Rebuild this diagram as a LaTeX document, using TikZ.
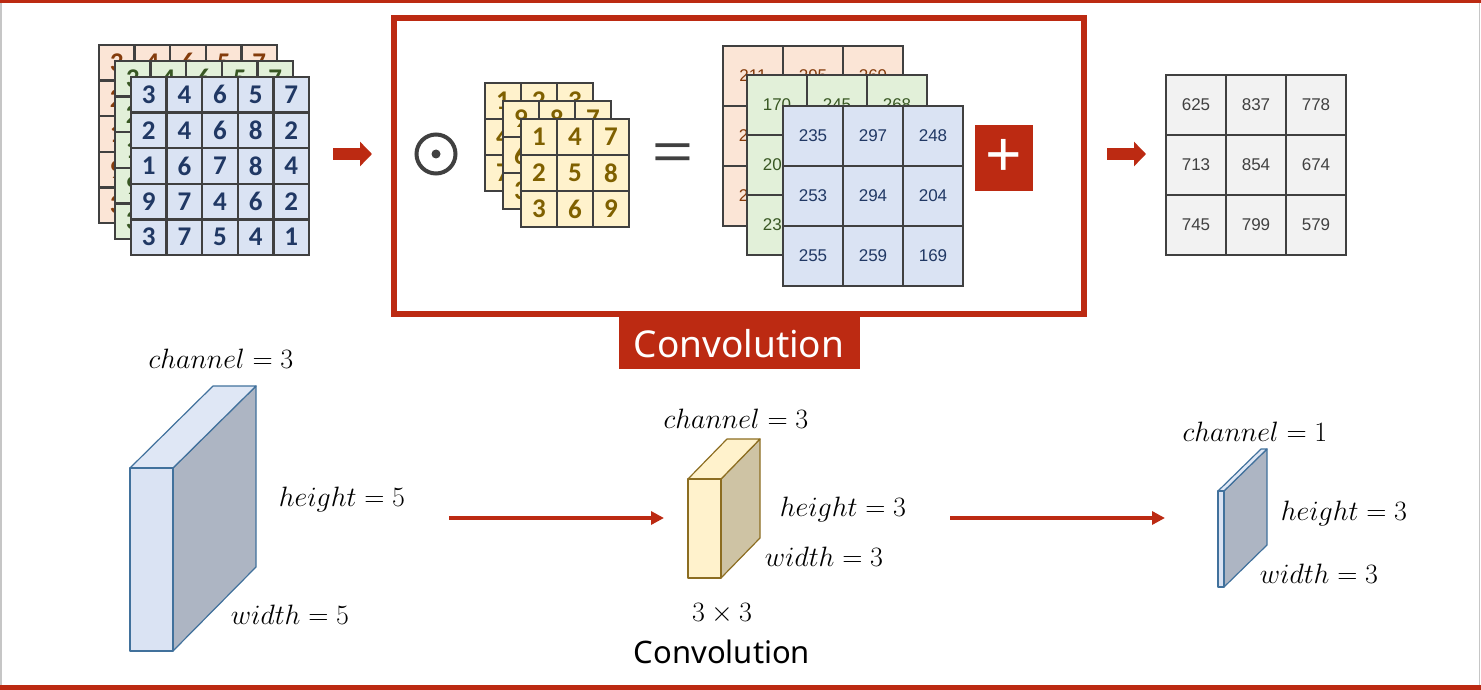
\RequirePackage{fix-cm}
\documentclass[tikz,border=0pt]{standalone}
\usepackage{fontspec}
\usepackage{graphicx}
\setsansfont{Noto Sans}
\newfontfamily\gridfont{Carlito}
\newfontfamily\cellfont{Liberation Sans}
\newfontfamily\plusfont{Noto Sans}
\usetikzlibrary{arrows.meta, positioning}

\definecolor{convred}{RGB}{188,42,18}
\definecolor{gridline}{HTML}{404040}
\definecolor{peachfill}{HTML}{FBE5D6}
\definecolor{peachtext}{HTML}{843C0C}
\definecolor{greenfill}{HTML}{E2F0D9}
\definecolor{greentext}{HTML}{385723}
\definecolor{bluefill}{HTML}{DAE3F3}
\definecolor{bluetext}{HTML}{203864}
\definecolor{yellowfill}{HTML}{FFF2CC}
\definecolor{yellowtext}{HTML}{7F6000}
\definecolor{grayfill}{HTML}{F2F2F2}
\definecolor{bluetop}{HTML}{DFE7F5}
\definecolor{blueside}{HTML}{ADB5C3}
\definecolor{bluestroke}{HTML}{41719C}
\definecolor{yellowside}{HTML}{CEC3A4}
\definecolor{yellowstroke}{HTML}{8C6D21}

% grid of numbered cells: name, x, y, cell size, style, rows
\newcommand{\numgrid}[6]{%
  \foreach \rowvals [count=\ri from 0] in {#6} {
    \foreach \val [count=\ci from 0] in \rowvals {
      \node[cellbox, #5, minimum size=#4] (#1-\ri-\ci) at ({#2+\ci*#4},{#3+\ri*#4}) {\val};
    }
  }%
}

\begin{document}
\begin{tikzpicture}[x=1pt, y=-1pt,
  cellbox/.style={draw=gridline, line width=2.5pt, inner sep=0pt, outer sep=0pt, anchor=north west},
  bignum/.style={font=\gridfont\bfseries\fontsize{27}{27}\selectfont},
  smallnum/.style={font=\cellfont\fontsize{17}{17}\selectfont},
  inpeach/.style={bignum, fill=peachfill, text=peachtext},
  ingreen/.style={bignum, fill=greenfill, text=greentext},
  inblue/.style={bignum, fill=bluefill, text=bluetext},
  kern/.style={bignum, fill=yellowfill, text=yellowtext},
  respeach/.style={smallnum, fill=peachfill, text=peachtext},
  resgreen/.style={smallnum, fill=greenfill, text=greentext},
  resblue/.style={smallnum, fill=bluefill, text=bluetext},
  resgray/.style={smallnum, fill=grayfill, text=gridline},
  blockarrow/.style={convred, line width=12pt, -{Triangle[length=12pt, width=24pt]}},
  thinarrow/.style={convred, line width=3.5pt, -{Triangle[length=13pt, width=13pt]}},
  mathlbl/.style={inner sep=0pt, font=\fontsize{28}{32}\selectfont},
  cubeblue/.style={draw=bluestroke, line width=1.2pt, line join=round},
  cubeyellow/.style={draw=yellowstroke, line width=1.2pt, line join=round}]
\useasboundingbox (0,0) rectangle (1481,690);
% page edges
\fill[convred] (0,0) rectangle (1481,3);
\fill[convred] (0,685) rectangle (1481,690);
\draw[gray!45, line width=1.5pt] (1,3) -- (1,685);
\draw[gray!45, line width=1.5pt] (1479.5,3) -- (1479.5,685);

% input feature map, three channels
\numgrid{inA}{99}{45}{35.6}{inpeach}{{3,4,6,5,7},{2,4,6,8,2},{1,6,7,8,4},{9,7,4,6,2},{3,7,5,4,1}}
\numgrid{inB}{115}{61}{35.6}{ingreen}{{3,4,6,5,7},{2,4,6,8,2},{1,6,7,8,4},{9,7,4,6,2},{3,7,5,4,1}}
\numgrid{inC}{131}{77}{35.6}{inblue}{{3,4,6,5,7},{2,4,6,8,2},{1,6,7,8,4},{9,7,4,6,2},{3,7,5,4,1}}

% convolution frame
\node[draw=convred, line width=6pt, minimum width=690pt, minimum height=296pt, inner sep=0pt] (frame) at (739,166) {};
\node[fill=convred, text=white, font=\sffamily\fontsize{37}{40}\selectfont, minimum width=241pt,
      minimum height=52pt, inner sep=0pt, below=0pt of frame] (convlbl) {Convolution};

% element-wise product sign
\node[circle, draw=gridline, line width=4pt, minimum size=39pt, inner sep=0pt] (odot) at (436,154) {};
\fill[gridline] (odot.center) circle (4.5);

% kernel, three channels
\numgrid{kA}{485}{83}{36}{kern}{{1,2,3},{4,5,6},{7,8,9}}
\numgrid{kB}{503}{101}{36}{kern}{{9,8,7},{6,5,4},{3,2,1}}
\numgrid{kC}{521}{119}{36}{kern}{{1,4,7},{2,5,8},{3,6,9}}

\node[text=gridline, font=\cellfont\fontsize{70}{70}\selectfont, inner sep=0pt] (eq) at (673,157) {\scalebox{1}[0.75]{=}};

% per-channel results
\numgrid{rA}{723}{46}{60}{respeach}{{211,295,269},{217,283,255},{219,267,164}}
\numgrid{rB}{747}{75}{60}{resgreen}{{170,245,268},{202,269,225},{233,246,246}}
\numgrid{rC}{783}{106}{60}{resblue}{{235,297,248},{253,294,204},{255,259,169}}

\node[fill=convred, text=white, font=\plusfont\fontsize{64}{64}\selectfont, minimum width=58pt,
      minimum height=66pt, inner sep=0pt] (plus) at (1004,158) {+};

% summed output
\numgrid{out}{1166}{75}{60}{resgray}{{625,837,778},{713,854,674},{745,799,579}}

\draw[blockarrow] ([xshift=24pt]inC-2-4.east |- odot.center) -- ([xshift=-19pt]frame.west |- odot.center);
\draw[blockarrow] ([xshift=20pt]frame.east |- odot.center) -- ([xshift=-20pt]out-1-0.west |- odot.center);

% input volume
\filldraw[cubeblue, fill=blueside] (173,468) -- (256,386) -- (256,567) -- (173,651) -- cycle;
\filldraw[cubeblue, fill=bluetop] (130,468) -- (213,386) -- (256,386) -- (173,468) -- cycle;
\filldraw[cubeblue, fill=bluefill] (130,468) rectangle (173,651);
\node[mathlbl] (c3a) at (221,359) {$channel = 3$};
\node[mathlbl] (h5) at (342,499) {$height = 5$};
\node[mathlbl] (w5) at (290,615) {$width = 5$};

% kernel volume
\filldraw[cubeyellow, fill=yellowside] (721,479) -- (760,439) -- (760,538) -- (721,578) -- cycle;
\filldraw[cubeyellow, fill=yellowfill] (688,479) -- (727,439) -- (760,439) -- (721,479) -- cycle;
\filldraw[cubeyellow, fill=yellowfill] (688,479) rectangle (721,578);
\node[mathlbl] (c3b) at (736,419) {$channel = 3$};
\node[mathlbl] (h3b) at (843,509) {$height = 3$};
\node[mathlbl] (w3b) at (824,557) {$width = 3$};
\node[mathlbl] (ksize) at (722,614) {$3\times 3$};
\node[inner sep=0pt, font=\sffamily\fontsize{31}{34}\selectfont] (kname) at (722,652) {Convolution};

% output volume
\filldraw[cubeblue, fill=blueside] (1224,491) -- (1267,449) -- (1267,545) -- (1224,587) -- cycle;
\filldraw[cubeblue, fill=bluetop] (1218,491) -- (1261,449) -- (1267,449) -- (1224,491) -- cycle;
\filldraw[cubeblue, fill=bluefill] (1218,491) rectangle (1224,587);
\node[mathlbl] (c1) at (1255,432) {$channel = 1$};
\node[mathlbl] (h3c) at (1344,513) {$height = 3$};
\node[mathlbl] (w3c) at (1319,574) {$width = 3$};

\coordinate (v2k-s) at (449,518);
\coordinate (v2k-e) at (664,518);
\coordinate (k2o-s) at (950,518);
\coordinate (k2o-e) at (1165,518);
\draw[thinarrow] (v2k-s) -- (v2k-e);
\draw[thinarrow] (k2o-s) -- (k2o-e);
\end{tikzpicture}
\end{document}
